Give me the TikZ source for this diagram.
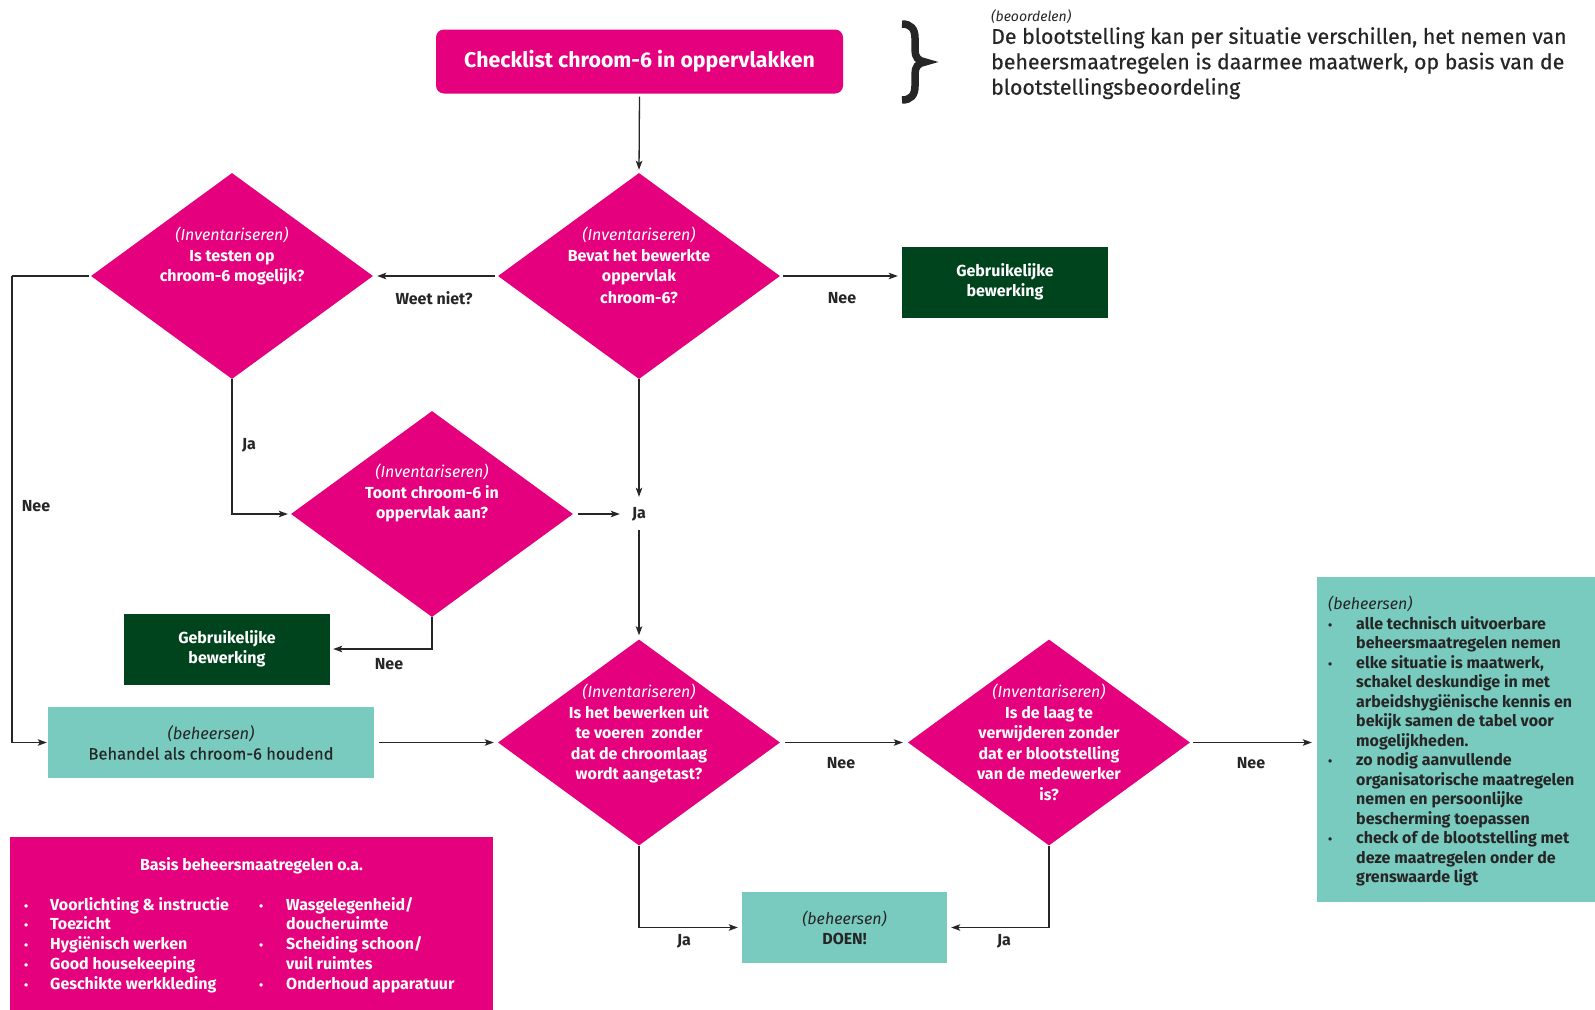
\documentclass[tikz,border=0pt]{standalone}
\usepackage{fontspec}
\setmainfont{Fira Sans}
\newfontfamily\cf{Fira Sans}
\newfontfamily\medf{Fira Sans}[FakeBold=0.5]
\usetikzlibrary{shapes.geometric,arrows.meta,calc}
\definecolor{pinkc}{RGB}{229,0,125}
\definecolor{dgreen}{RGB}{0,68,30}
\definecolor{tealc}{RGB}{122,203,191}
\definecolor{ink}{RGB}{38,38,38}
\newcommand\mybul{{\fontsize{12}{12}\selectfont\textbullet}}
\begin{document}
\begin{tikzpicture}[x=1pt,y=-1pt,
  dia/.style={diamond, fill=pinkc, minimum width=282, minimum height=206, inner sep=0pt},
  dtext/.style={text=white, align=center, inner sep=0pt, anchor=north, font=\cf\bfseries\fontsize{16}{20.5}\selectfont},
  gbox/.style={fill=dgreen, minimum width=206, minimum height=71, inner sep=0pt, text=white, align=center, font=\cf\bfseries\fontsize{16}{20.3}\selectfont},
  tbox/.style={fill=tealc, inner sep=0pt, text=ink, align=center, font=\medf\fontsize{16.5}{20.3}\selectfont},
  lbl/.style={text=ink, inner sep=0pt, font=\cf\bfseries\fontsize{16}{18}\selectfont},
  arr/.style={draw=ink, line width=1.3pt, -{Stealth[length=9pt,width=6.5pt,inset=2pt]}},
  ln/.style={draw=ink, line width=1.3pt},
  listtxt/.style={anchor=north west, inner sep=0pt, align=left},
]
\useasboundingbox (0,0) rectangle (1595,1009);
\fill[white] (0,0) rectangle (1595,1009);

% title
\node[fill=pinkc, rounded corners=8pt, minimum width=407, minimum height=64, inner sep=0pt,
  text=white, font=\bfseries\fontsize{21.3}{25}\selectfont] (title) at (639.5,61.5) {Checklist chroom-6 in oppervlakken};

% brace and assessment text
\draw[ink, line width=7.5pt, line cap=butt]
  (902,24) .. controls (911,24) and (915,29) .. (915,38) -- (915,50)
  .. controls (915,57) and (918,61) .. (925,62)
  .. controls (918,63) and (915,67) .. (915,74) -- (915,86)
  .. controls (915,95) and (911,100) .. (902,100);
\node[anchor=west, inner sep=0pt, text=ink, font=\itshape\fontsize{14}{16}\selectfont] (beo) at (991,17) {(beoordelen)};
\node[anchor=north west, inner sep=0pt, text=ink, align=left, font=\medf\fontsize{21.3}{25.4}\selectfont] (beotxt) at (991,27)
  {De blootstelling kan per situatie verschillen, het nemen van\\
   beheersmaatregelen is daarmee maatwerk, op basis van de\\
   blootstellingsbeoordeling};

% diamonds
\node[dia] (d1) at (639,276) {};
\node[dtext] (d1t) at (639,227) {{\mdseries\itshape (Inventariseren)}\\Bevat het bewerkte\\oppervlak\\[1.5pt]chroom-6?};
\node[dia] (d2) at (232,276) {};
\node[dtext] (d2t) at (232,227) {{\mdseries\itshape (Inventariseren)}\\Is testen op\\chroom-6 mogelijk?};
\node[dia] (d3) at (432,514) {};
\node[dtext] (d3t) at (432,464) {{\mdseries\itshape (Inventariseren)}\\Toont chroom-6 in\\oppervlak aan?};
\node[dia] (d4) at (639,742.5) {};
\node[dtext] (d4t) at (639,684) {{\mdseries\itshape (Inventariseren)}\\Is het bewerken uit\\te voeren\ \ zonder\\dat de chroomlaag\\wordt aangetast?};
\node[dia] (d5) at (1049,742.5) {};
\node[dtext] (d5t) at (1049,684) {{\mdseries\itshape (Inventariseren)}\\Is de laag te\\verwijderen zonder\\dat er blootstelling\\van de medewerker\\is?};

% boxes
\node[gbox] (g1) at (1005,282) {Gebruikelijke\\bewerking};
\node[gbox] (g2) at (227,649) {Gebruikelijke\\bewerking};
\node[tbox, minimum width=326, minimum height=71] (beh) at (211,742.5) {{\cf\itshape (beheersen)}\\Behandel als chroom-6 houdend};
\node[tbox, minimum width=205, minimum height=71, font=\cf\fontsize{16}{20.3}\selectfont] (doen) at (844.5,927.5) {{\itshape (beheersen)}\\\bfseries DOEN!};
\node[fill=tealc, minimum width=278, minimum height=325, inner sep=0pt] (rbox) at (1456,739.5) {};
\node[listtxt, text=ink, font=\cf\bfseries\fontsize{16}{19.5}\selectfont] (rtxt) at (1328,596) {%
  \begin{tabular}{@{}p{28pt}@{}l@{}}
  \multicolumn{2}{@{}l@{}}{\mdseries\itshape (beheersen)}\\
  \mybul & alle technisch uitvoerbare\\
   & beheersmaatregelen nemen\\
  \mybul & elke situatie is maatwerk,\\
   & schakel deskundige in met\\
   & arbeidshygiënische kennis en\\
   & bekijk samen de tabel voor\\
   & mogelijkheden.\\
  \mybul & zo nodig aanvullende\\
   & organisatorische maatregelen\\
   & nemen en persoonlijke\\
   & bescherming toepassen\\
  \mybul & check of de blootstelling met\\
   & deze maatregelen onder de\\
   & grenswaarde ligt
  \end{tabular}};

% basis box
\node[fill=pinkc, minimum width=483, minimum height=180, inner sep=0pt] (basis) at (251.5,927) {};
\node[inner sep=0pt, text=white, font=\cf\bfseries\fontsize{16}{18}\selectfont] (bastitle) at (251.5,866) {Basis beheersmaatregelen o.a.};
\node[listtxt, text=white, font=\cf\bfseries\fontsize{16}{19.8}\selectfont] (bas1) at (24,896) {%
  \begin{tabular}{@{}p{26pt}@{}l@{}}
  \mybul & Voorlichting \& instructie\\
  \mybul & Toezicht\\
  \mybul & Hygiënisch werken\\
  \mybul & Good housekeeping\\
  \mybul & Geschikte werkkleding
  \end{tabular}};
\node[listtxt, text=white, font=\cf\bfseries\fontsize{16}{19.8}\selectfont] (bas2) at (259,896) {%
  \begin{tabular}{@{}p{27pt}@{}l@{}}
  \mybul & Wasgelegenheid/\\
   & doucheruimte\\
  \mybul & Scheiding schoon/\\
   & vuil ruimtes\\
  \mybul & Onderhoud apparatuur
  \end{tabular}};

% middle Ja junction
\node[lbl, minimum width=30, minimum height=30] (jamid) at (639,514) {Ja};

% corner coordinate
\coordinate (lcorner) at (12,276);

% connectors
\draw[arr, shorten <=3pt, shorten >=3pt] (title.south) -- (d1.north);
\draw[arr, shorten <=3pt, shorten >=4pt] (d1.west) -- (d2.east);
\draw[arr, shorten <=3pt, shorten >=4pt] (d1.east) -- (g1.west |- d1.east);
\draw[arr, shorten >=2pt] (d1.south) -- (jamid.north);
\draw[arr, shorten <=5pt, shorten >=4pt] (d3.east) -- (jamid.west);
\draw[arr, shorten <=1pt, shorten >=4pt] (jamid.south) -- (d4.north);
\draw[arr, shorten >=3pt] (d2.south) |- (d3.west);
\draw[ln, shorten <=2pt] (d2.west) -- (lcorner);
\draw[arr, shorten >=1pt] (lcorner) |- (beh.west);
\draw[arr, shorten >=3pt] (d3.south) |- (g2.east);
\draw[arr, shorten <=5pt, shorten >=4pt] (beh.east) -- (d4.west);
\draw[arr, shorten <=5pt, shorten >=5pt] (d4.east) -- (d5.west);
\draw[arr, shorten <=3pt, shorten >=5pt] (d5.east) -- (rbox.west |- d5.east);
\draw[arr, shorten >=4pt] (d4.south) |- (doen.west);
\draw[arr, shorten >=4pt] (d5.south) |- (doen.east);

% connector labels
\node[lbl] (l1) at (434,298) {Weet niet?};
\node[lbl] (l2) at (842,298) {Nee};
\node[lbl] (l3) at (249,445) {Ja};
\node[lbl] (l4) at (36,506) {Nee};
\node[lbl] (l5) at (389,664) {Nee};
\node[lbl] (l6) at (841,763) {Nee};
\node[lbl] (l7) at (1251,763) {Nee};
\node[lbl] (l8) at (684,941) {Ja};
\node[lbl] (l9) at (1004,941) {Ja};
\end{tikzpicture}
\end{document}
